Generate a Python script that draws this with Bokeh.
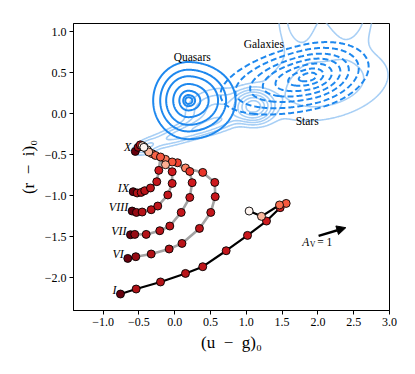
import numpy as np
from bokeh.plotting import figure
from bokeh.models import LinearColorMapper, Arrow, NormalHead, FixedTicker, Range1d
from bokeh.palettes import Reds256
from bokeh.core.properties import value
from bokeh.embed import file_html
from bokeh.resources import INLINE

# ---------------- data ----------------
x_ticks = [-1.0, -0.5, 0.0, 0.5, 1.0, 1.5, 2.0, 2.5, 3.0]
x_tick_labels = ["\u22121.0", "\u22120.5", "0.0", "0.5", "1.0", "1.5", "2.0", "2.5", "3.0"]
y_ticks = [-2.0, -1.5, -1.0, -0.5, 0.0, 0.5, 1.0]
y_tick_labels = ["\u22122.0", "\u22121.5", "\u22121.0", "\u22120.5", "0.0", "0.5", "1.0"]

# model tracks: (u-g)_0, (r-i)_0, log age
track_names = ["I", "VI", "VII", "VIII", "IX", "X"]
track_ug = {
    "I":    [-0.757, -0.538, -0.198, 0.151, 0.392, 0.719, 1.017, 1.282, 1.473, 1.557, 1.464, 1.212, 1.040],
    "VI":   [-0.655, -0.543, -0.328, -0.077, 0.102, 0.346, 0.504, 0.566, 0.560, 0.392, 0.151, 0.039, -0.128, -0.362, -0.432],
    "VII":  [-0.617, -0.557, -0.398, -0.208, -0.068, 0.091, 0.211, 0.244, 0.211, -0.035, -0.314, -0.432],
    "VIII": [-0.594, -0.534, -0.454, -0.328, -0.236, -0.096, -0.035, -0.035, -0.128, -0.268, -0.384],
    "IX":   [-0.580, -0.524, -0.468, -0.418, -0.338, -0.250, -0.222, -0.198, -0.362, -0.432],
    "X":    [-0.550, -0.510, -0.480, -0.450, -0.430],
}
track_ri = {
    "I":    [-2.199, -2.138, -2.052, -1.948, -1.866, -1.671, -1.484, -1.309, -1.146, -1.094, -1.113, -1.252, -1.187],
    "VI":   [-1.765, -1.744, -1.711, -1.650, -1.582, -1.399, -1.204, -1.012, -0.838, -0.716, -0.662, -0.598, -0.557, -0.467, -0.406],
    "VII":  [-1.476, -1.472, -1.472, -1.427, -1.370, -1.204, -1.021, -0.841, -0.704, -0.589, -0.488, -0.406],
    "VIII": [-1.187, -1.204, -1.199, -1.171, -1.126, -0.991, -0.850, -0.707, -0.622, -0.509, -0.439],
    "IX":   [-0.951, -0.967, -0.960, -0.939, -0.906, -0.829, -0.691, -0.528, -0.467, -0.406],
    "X":    [-0.460, -0.410, -0.380, -0.390, -0.410],
}
track_logage = {
    "I":    [10.1, 9.6, 9.55, 9.5, 9.45, 9.4, 9.35, 9.3, 9.25, 8.7, 8.5, 7.8, 7.0],
    "VI":   [10.1, 9.8, 9.6, 9.55, 9.5, 9.45, 9.4, 9.35, 9.3, 9.0, 8.3, 8.9, 8.4, 7.8, 7.0],
    "VII":  [10.1, 9.8, 9.55, 9.5, 9.45, 9.4, 9.35, 9.3, 9.0, 8.7, 8.3, 7.0],
    "VIII": [10.1, 9.8, 9.55, 9.5, 9.45, 9.4, 9.35, 9.3, 7.9, 8.6, 7.1],
    "IX":   [10.1, 9.6, 9.55, 9.5, 9.45, 9.4, 9.3, 8.7, 7.8, 7.0],
    "X":    [10.1, 9.8, 9.4, 7.5, 7.0],
}

# density models
# quasars: split-normal peak
qso_center = [0.19, 0.16]
qso_sigma_left, qso_sigma_right, qso_sigma_y = 0.245, 0.33, 0.235
qso_levels = [0.135, 0.278, 0.452, 0.691, 0.878, 0.959, 0.985]

# galaxies: tilted split-normal peak
gal_center = [1.88, 0.45]
gal_sigma_left, gal_sigma_right, gal_sigma_minor, gal_tilt_deg = 0.60, 0.40, 0.19, 11
gal_levels = [0.110, 0.216, 0.375, 0.546, 0.726, 0.882, 0.969]

# stars: Gaussian components
star_cx = [1.10, 0.25, -0.40, 2.10, 2.40, 1.75, 0.55]
star_cy = [0.09, -0.20, -0.41, 0.35, 1.30, 1.20, 0.05]
star_sa = [0.14, 0.45, 0.10, 0.60, 0.22, 0.20, 0.25]
star_sb = [0.10, 0.065, 0.05, 0.28, 0.28, 0.30, 0.15]
star_th = [0, 16, 20, 10, 0, 0, 10]
star_w = [1.0, 0.24, 0.12, 0.15, 0.20, 0.15, 0.18]
star_levels = [0.05, 0.10, 0.17, 0.27, 0.42, 0.62, 0.85]

region_names = ["Quasars", "Galaxies", "Stars"]
region_x = [0.245, 1.245, 1.85]
region_y = [0.695, 0.85, -0.094]

av_start = [2.01, -1.49]
av_end = [2.39, -1.39]
av_label_pos = [1.78, -1.56]

# ---------------- figure ----------------
p = figure(frame_width=316, frame_height=287,
           x_range=Range1d(-1.413, 3.0), y_range=Range1d(-2.4, 1.1),
           output_backend="svg", toolbar_location=None,
           min_border_left=73, min_border_right=10, min_border_top=23, min_border_bottom=50)
p.grid.visible = False
p.outline_line_color = "black"
p.outline_line_width = 1
p.background_fill_color = "white"
p.border_fill_color = "white"

serif = "Liberation Serif"
for ax, ticks, labels, lab in ((p.xaxis, x_ticks, x_tick_labels, "(u\u2002\u2212\u2002g)\u2080"),
                               (p.yaxis, y_ticks, y_tick_labels, "(r\u2002\u2212\u2002i)\u2080")):
    ax.ticker = FixedTicker(ticks=ticks)
    ax.major_label_overrides = dict(zip(ticks, labels))
    ax.minor_tick_line_color = None
    ax.major_tick_out = 4
    ax.major_tick_in = 0
    ax.major_label_text_font = serif
    ax.major_label_text_font_size = "12px"
    ax.major_label_text_color = "black"
    ax.major_label_standoff = 3
    ax.axis_label = lab
    ax.axis_label_text_font = serif
    ax.axis_label_text_font_size = "17px"
    ax.axis_label_text_font_style = "normal"
    ax.axis_label_text_color = "black"
    ax.axis_label_standoff = 4
    ax.axis_line_color = "black"
    ax.major_tick_line_color = "black"

# density grids
gx = np.linspace(-1.6, 3.4, 440)
gy = np.linspace(-2.5, 1.8, 400)
GX, GY = np.meshgrid(gx, gy)

def mixture(cx, cy, sa, sb, th, w):
    z = np.zeros_like(GX)
    for a0, b0, s1, s2, t, ww in zip(cx, cy, sa, sb, th, w):
        t = np.deg2rad(t)
        dx, dy = GX - a0, GY - b0
        u = dx * np.cos(t) + dy * np.sin(t)
        v = -dx * np.sin(t) + dy * np.cos(t)
        z += ww * np.exp(-0.5 * ((u / s1) ** 2 + (v / s2) ** 2))
    return z

def split_peak(c, s_left, s_right, s_minor, tilt_deg):
    t = np.deg2rad(tilt_deg)
    dx, dy = GX - c[0], GY - c[1]
    u = dx * np.cos(t) + dy * np.sin(t)
    v = -dx * np.sin(t) + dy * np.cos(t)
    su = np.where(u < 0, s_left, s_right)
    return np.exp(-0.5 * ((u / su) ** 2 + (v / s_minor) ** 2))

z_star = mixture(star_cx, star_cy, star_sa, star_sb, star_th, star_w)
z_gal = split_peak(gal_center, gal_sigma_left, gal_sigma_right, gal_sigma_minor, gal_tilt_deg)
z_qso = split_peak(qso_center, qso_sigma_left, qso_sigma_right, qso_sigma_y, 0)

p.contour(gx, gy, z_star, star_levels, line_color="#a8cff5", line_width=1.6)
p.contour(gx, gy, z_gal, gal_levels, line_color="#1e88ee", line_width=2, line_dash="6 3")
p.contour(gx, gy, z_qso, qso_levels, line_color="#1e88ee", line_width=2)

# tracks
mapper = LinearColorMapper(palette=list(Reds256[::-1]), low=7.0, high=10.1)
for name in track_names:
    p.line(track_ug[name], track_ri[name], line_color="black" if name == "I" else "#a3a3a3",
           line_width=2.2 if name == "I" else 2.6)
for name in track_names:
    src = {"x": track_ug[name], "y": track_ri[name], "age": track_logage[name]}
    p.scatter("x", "y", source=src, size=8, line_color="black", line_width=0.9,
              fill_color={"field": "age", "transform": mapper})

# track labels
p.text(x=[track_ug[n][0] for n in track_names], y=[track_ri[n][0] for n in track_names],
       text=track_names, text_font=value(serif), text_font_style="italic",
       text_font_size="12px", text_align="right", text_baseline="middle",
       x_offset=-4, y_offset=-4, text_color="black")

# region labels
p.text(x=region_x, y=region_y, text=region_names, text_font=value(serif),
       text_font_size="11.5px", text_align="center", text_baseline="middle", text_color="black")

# reddening vector
p.add_layout(Arrow(end=NormalHead(size=9, fill_color="black", line_color="black"),
                   x_start=av_start[0], y_start=av_start[1], x_end=av_end[0], y_end=av_end[1],
                   line_width=2.5, line_color="black"))
p.text(x=[av_label_pos[0]], y=[av_label_pos[1]], text=["A"], text_font=value(serif),
       text_font_style="italic", text_font_size="11.5px", text_baseline="middle", text_color="black")
p.text(x=[av_label_pos[0]], y=[av_label_pos[1]], text=["V"], text_font=value(serif),
       text_font_size="8px", text_baseline="middle", x_offset=7.5, y_offset=3, text_color="black")
p.text(x=[av_label_pos[0]], y=[av_label_pos[1]], text=["= 1"], text_font=value(serif),
       text_font_size="11.5px", text_baseline="middle", x_offset=15, text_color="black")

open("out.html", "w").write(file_html(p, INLINE))
